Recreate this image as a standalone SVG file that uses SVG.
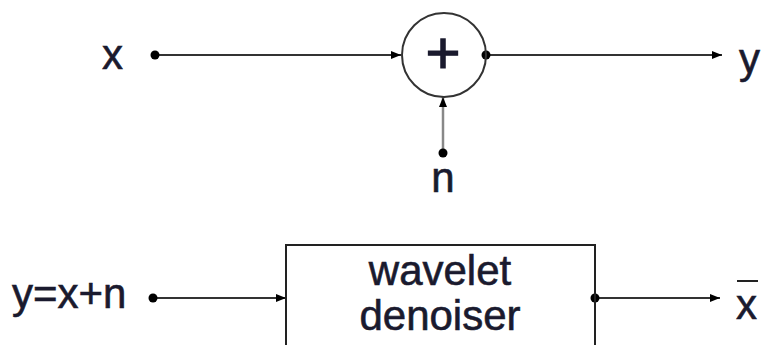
<svg xmlns="http://www.w3.org/2000/svg" width="761" height="345" viewBox="0 0 761 345">
<defs>
<style>
.t{font-family:"Liberation Sans",Arial,sans-serif;font-size:42px;fill:#1a1a2e;stroke:#1a1a2e;stroke-width:0.6px}
.ln{stroke:#333;stroke-width:2;fill:none}
.lg{stroke:#888;stroke-width:2.5;fill:none}
.dot{fill:#000}
</style>
<marker id="ah" viewBox="0 0 10 8" refX="10" refY="4" markerWidth="10" markerHeight="8" markerUnits="userSpaceOnUse" orient="auto">
<path d="M0,0 L10,4 L0,8 Z" fill="#000"/>
</marker>
</defs>
<rect width="761" height="345" fill="#fff"/>
<g id="connectors">
<line class="ln" x1="155" y1="55" x2="401" y2="55" marker-end="url(#ah)"/>
<line class="ln" x1="486" y1="55" x2="722" y2="55" marker-end="url(#ah)"/>
<line class="lg" x1="443" y1="153" x2="443" y2="97" marker-end="url(#ah)"/>
<line class="ln" x1="153" y1="298" x2="286" y2="298" marker-end="url(#ah)"/>
<line class="ln" x1="595" y1="298" x2="720" y2="298" marker-end="url(#ah)"/>
<circle class="dot" cx="155" cy="55" r="4.5"/>
<circle class="dot" cx="486" cy="55" r="4.5"/>
<circle class="dot" cx="443" cy="153" r="4.5"/>
<circle class="dot" cx="153" cy="298" r="4.5"/>
<circle class="dot" cx="595" cy="298" r="4.5"/>
</g>
<g id="x-in"><text class="t" x="102" y="69">x</text></g>
<g id="sum">
<circle cx="444" cy="55" r="42" fill="none" stroke="#333" stroke-width="2"/>
<text class="t" x="443" y="73" text-anchor="middle" style="font-size:60px;stroke-width:1.2px">+</text>
</g>
<g id="y-out"><text class="t" x="739" y="73">y</text></g>
<g id="n-in"><text class="t" x="443" y="192" text-anchor="middle">n</text></g>
<g id="y-in"><text class="t" x="12" y="308">y=x+n</text></g>
<g id="denoiser">
<rect x="286" y="245" width="309" height="130" fill="none" stroke="#222" stroke-width="2"/>
<text class="t" x="440" y="285" text-anchor="middle">wavelet</text>
<text class="t" x="440" y="330" text-anchor="middle">denoiser</text>
</g>
<g id="xhat-out">
<text class="t" x="736" y="319">x</text>
<line x1="737" y1="281" x2="758" y2="281" stroke="#222" stroke-width="2"/>
</g>
</svg>
